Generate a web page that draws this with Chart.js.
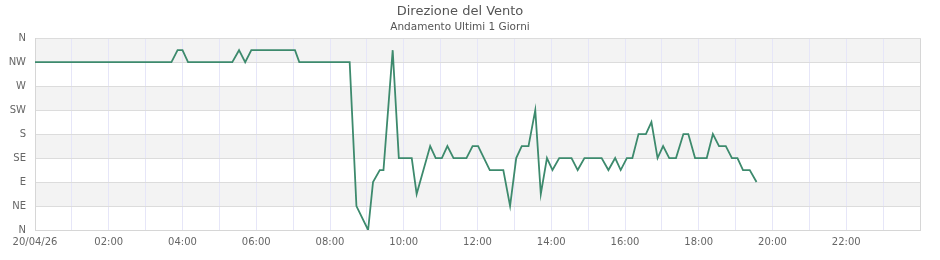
<!DOCTYPE html>
<html>
<head>
<meta charset="utf-8">
<script src="https://cdn.jsdelivr.net/npm/chart.js@4"></script>
<style>
  html, body { margin: 0; padding: 0; background: #fff; }
  #wrap { width: 940px; height: 260px; }
</style>
</head>
<body>
<div id="wrap"><canvas id="chart"></canvas></div>
<script>
// --- DATA ---
const times = ['00:00','03:42','03:52','04:00','04:09','05:21','05:32','05:42','05:52','07:03','07:10',
  '08:32','08:43','09:02','09:10','09:21','09:27','09:42','09:52','10:13','10:21','10:43','10:52',
  '11:02','11:11','11:21','11:42','11:52','12:01','12:20','12:42','12:53','13:03','13:12','13:23',
  '13:34','13:43','13:53','14:02','14:13','14:33','14:43','14:54','15:22','15:33','15:44','15:53',
  '16:03','16:12','16:22','16:34','16:43','16:53','17:02','17:12','17:23','17:35','17:43','17:54',
  '18:13','18:23','18:33','18:44','18:54','19:03','19:12','19:23','19:34'];
const directions = [315,315,337.5,337.5,315,315,337.5,315,337.5,337.5,315,
  315,45,0,90,112.5,112.5,337.5,135,135,67.5,157.5,135,
  135,157.5,135,135,157.5,157.5,112.5,112.5,45,135,157.5,157.5,
  225,67.5,135,112.5,135,135,112.5,135,135,112.5,135,112.5,
  135,135,180,180,202.5,135,157.5,135,135,180,180,135,
  135,180,157.5,157.5,135,135,112.5,112.5,90];
const compassLabels = ['N','NE','E','SE','S','SW','W','NW','N'];
const xTickLabels = ['20/04/26','02:00','04:00','06:00','08:00','10:00','12:00','14:00','16:00','18:00','20:00','22:00'];
const titleText = 'Direzione del Vento';
const subtitleText = 'Andamento Ultimi 1 Giorni';

function toMinutes(t) {
  const [h, m] = t.split(':').map(Number);
  return h * 60 + m;
}

const points = times.map((t, i) => ({ x: toMinutes(t), y: directions[i] }));

// alternating grey bands behind the grid
const bandsPlugin = {
  id: 'bands',
  beforeDraw(chart) {
    const { ctx, chartArea, scales } = chart;
    const y = scales.y;
    ctx.save();
    ctx.fillStyle = '#f3f3f3';
    for (let v = 45; v < 360; v += 90) {
      const top = y.getPixelForValue(v + 45);
      const bottom = y.getPixelForValue(v);
      ctx.fillRect(chartArea.left, top, chartArea.right - chartArea.left, bottom - top);
    }
    ctx.restore();
  }
};

const font = 'DejaVu Sans';

new Chart(document.getElementById('chart'), {
  type: 'line',
  data: {
    datasets: [{
      data: points,
      borderColor: '#3d8a6d',
      borderWidth: 1.8,
      pointRadius: 0,
      tension: 0,
      fill: false
    }]
  },
  options: {
    responsive: true,
    maintainAspectRatio: false,
    animation: false,
    layout: { padding: { left: 0, right: 20, top: 0, bottom: 0 } },
    plugins: {
      legend: { display: false },
      tooltip: { enabled: false },
      title: {
        display: true,
        text: titleText,
        color: '#555',
        font: { family: font, size: 13, weight: 'normal' },
        padding: { top: 4, bottom: 0 }
      },
      subtitle: {
        display: true,
        text: subtitleText,
        color: '#555',
        font: { family: font, size: 10.5, weight: 'normal' },
        padding: { top: 1, bottom: 5 }
      }
    },
    scales: {
      x: {
        type: 'linear',
        min: 0,
        max: 1440,
        afterBuildTicks(scale) {
          const t = [];
          for (let v = 0; v <= 1440; v += 60) t.push({ value: v });
          scale.ticks = t;
        },
        afterFit(scale) { scale.height = 30; },
        ticks: {
          autoSkip: false,
          maxRotation: 0,
          padding: 6,
          color: '#666',
          font: { family: font, size: 10 },
          callback(v) {
            if (v % 120 !== 0 || v >= 1440) return '';
            return xTickLabels[v / 120];
          }
        },
        grid: {
          drawTicks: false,
          color: ctx => (ctx.tick && ctx.tick.value === 1440) ? '#d6d6d6' : '#e6e6f8',
          lineWidth: 1
        },
        border: { color: '#d6d6d6' }
      },
      y: {
        min: 0,
        max: 360,
        afterFit(scale) { scale.width = 35; },
        ticks: {
          stepSize: 45,
          padding: 9,
          color: '#666',
          font: { family: font, size: 10 },
          callback: v => compassLabels[v / 45]
        },
        grid: { drawTicks: false, color: '#dcdcdc' },
        border: { color: '#d6d6d6' }
      }
    }
  },
  plugins: [bandsPlugin]
});
</script>
</body>
</html>
